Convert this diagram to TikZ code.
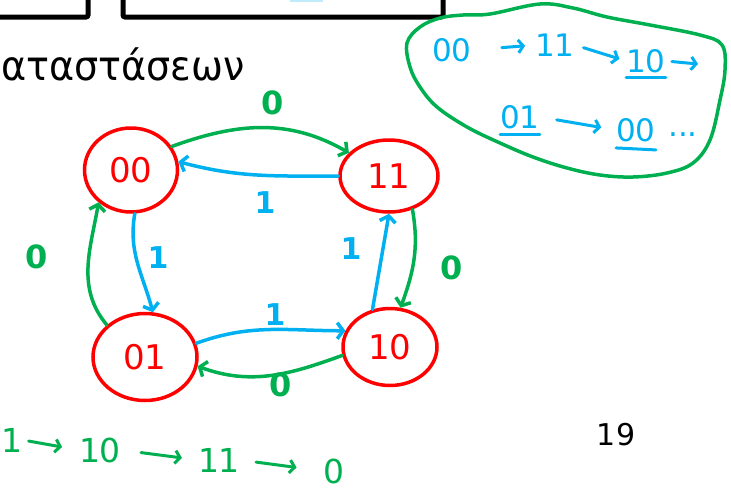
\documentclass[tikz,border=0pt]{standalone}
\usepackage{fontspec}
\setmainfont{DejaVu Sans}
\usetikzlibrary{arrows.meta,shapes.geometric}

\definecolor{penred}{RGB}{255,0,0}
\definecolor{penblue}{RGB}{0,176,240}
\definecolor{pengreen}{RGB}{0,176,80}

\begin{document}
\begin{tikzpicture}[x=1pt, y=-1pt,
    state/.style={ellipse, draw=penred, line width=3.5pt, text=penred, inner sep=0pt,
                  font=\fontsize{34}{34}\selectfont},
    one/.style={draw=penblue, line width=3.5pt, line cap=round, -{Straight Barb[length=6pt,width=16pt]}},
    zero/.style={draw=pengreen, line width=3.5pt, line cap=round, -{Straight Barb[length=6pt,width=16pt]}},
    lblone/.style={text=penblue, font=\fontsize{30}{30}\bfseries\selectfont, inner sep=0pt},
    lblzero/.style={text=pengreen, font=\fontsize{32}{32}\bfseries\selectfont, inner sep=0pt},
    seqblue/.style={text=penblue, font=\fontsize{31}{31}\selectfont, inner sep=0pt},
    seqgreen/.style={text=pengreen, font=\fontsize{33}{33}\selectfont, inner sep=0pt},
    stepblue/.style={draw=penblue, line width=3pt, line cap=round, -{Straight Barb[length=5pt,width=13pt]}},
    stepgreen/.style={draw=pengreen, line width=3pt, line cap=round, -{Straight Barb[length=5pt,width=13pt]}}]
  \useasboundingbox (0,0) rectangle (731,493);
  \clip (0,0) rectangle (731,493);
  % slide frame
  \draw[line width=5pt, rounded corners=2pt] (-20,-20) rectangle (88,17);
  \draw[line width=5pt, rounded corners=2pt] (123,-20) rectangle (443,17);
  \fill[penblue!25] (290,-2) rectangle (323,2);
  \node[anchor=base west, inner sep=0pt, font=\fontsize{41}{41}\selectfont] (title) at (1,80) {\scalebox{0.93}[1]{αταστάσεων}};
  \node[anchor=base, inner sep=0pt, font=\fontsize{30}{30}\selectfont] (page) at (616,445) {19};
  % states
  \node[state, minimum width=93pt, minimum height=84pt] (n00) at (131,170) {00};
  \node[state, minimum width=98pt, minimum height=72pt] (n11) at (389,176) {11};
  \node[state, minimum width=104pt, minimum height=87pt] (n01) at (145,357) {01};
  \node[state, minimum width=94pt, minimum height=77pt] (n10) at (390,347) {10};
  % input 1
  \draw[one] (n11.180) to[out=180,in=-15] (n00.10);
  \draw[one] (n00.-85) to[out=-100,in=105] (n01.80);
  \draw[one] (n01.15) to[out=20,in=180] (n10.160);
  \draw[one] (n10.115) -- (n11.-90);
  \node[lblone] (a1) at (265,203) {1};
  \node[lblone] (a2) at (158,258) {1};
  \node[lblone] (a3) at (275,315) {1};
  \node[lblone] (a4) at (351,249) {1};
  % input 0
  \draw[zero] (n00.30) to[out=20,in=150] (n11.150);
  \draw[zero] (n11.-55) to[out=-80,in=70] (n10.75);
  \draw[zero] (n10.-170) to[out=200,in=-20] (n01.-10);
  \draw[zero] (n01.140) to[out=130,in=-100] (n00.-135);
  \node[lblzero] (b1) at (273,103) {0};
  \node[lblzero] (b2) at (452,268) {0};
  \node[lblzero] (b3) at (281,385) {0};
  \node[lblzero] (b4) at (37,257) {0};
  % sequence in the bubble
  \draw[pengreen, line width=3.5pt, line cap=round] plot[smooth cycle, tension=0.6] coordinates {
    (490,14) (540,4) (573,8) (607,17) (650,25) (700,35) (722,45) (725,70) (720,100)
    (710,140) (693,163) (667,173) (633,177) (600,175) (567,168) (533,157) (500,143)
    (467,127) (437,107) (420,87) (410,67) (407,43) (420,27) (440,18) (463,15)};
  \node[seqblue] (r00) at (452,50) {00};
  \node[seqblue] (r11) at (555,45) {11};
  \node[seqblue] (r10) at (646,61) {10};
  \coordinate (rend) at (698,64);
  \node[seqblue] (r01) at (520,117) {01};
  \node[seqblue] (r00b) at (636,130) {00};
  \node[seqblue] (rdots) at (683,135) {...};
  \draw[stepblue, shorten <=30pt, shorten >=10pt] (r00.east) -- (r11.west);
  \draw[stepblue, shorten <=9pt, shorten >=7pt] (r11.east) -- (r10.west);
  \draw[stepblue, shorten <=6pt] (r10.east) -- (rend);
  \draw[stepblue, shorten <=17pt, shorten >=15pt] (r01.east) -- (r00b.west);
  \draw[penblue, line width=3pt, line cap=round] ([yshift=-5pt]r10.south west) -- ([yshift=-5pt]r10.south east);
  \draw[penblue, line width=3pt, line cap=round] ([yshift=-6pt]r01.south west) -- ([yshift=-6pt]r01.south east);
  \draw[penblue, line width=3pt, line cap=round] ([yshift=-6pt]r00b.south west) -- ([yshift=-8pt]r00b.south east);
  % sequence below
  \node[seqgreen] (s1) at (12,440) {1};
  \node[seqgreen] (s3) at (100,450) {10};
  \node[seqgreen] (s5) at (219,460) {11};
  \node[seqgreen] (s7) at (334,471) {0};
  \draw[stepgreen, shorten <=6pt, shorten >=17pt] (s1.east) -- (s3.west);
  \draw[stepgreen, shorten <=20pt, shorten >=16pt] (s3.east) -- (s5.west);
  \draw[stepgreen, shorten <=16pt, shorten >=27pt] (s5.east) -- (s7.west);
\end{tikzpicture}
\end{document}
